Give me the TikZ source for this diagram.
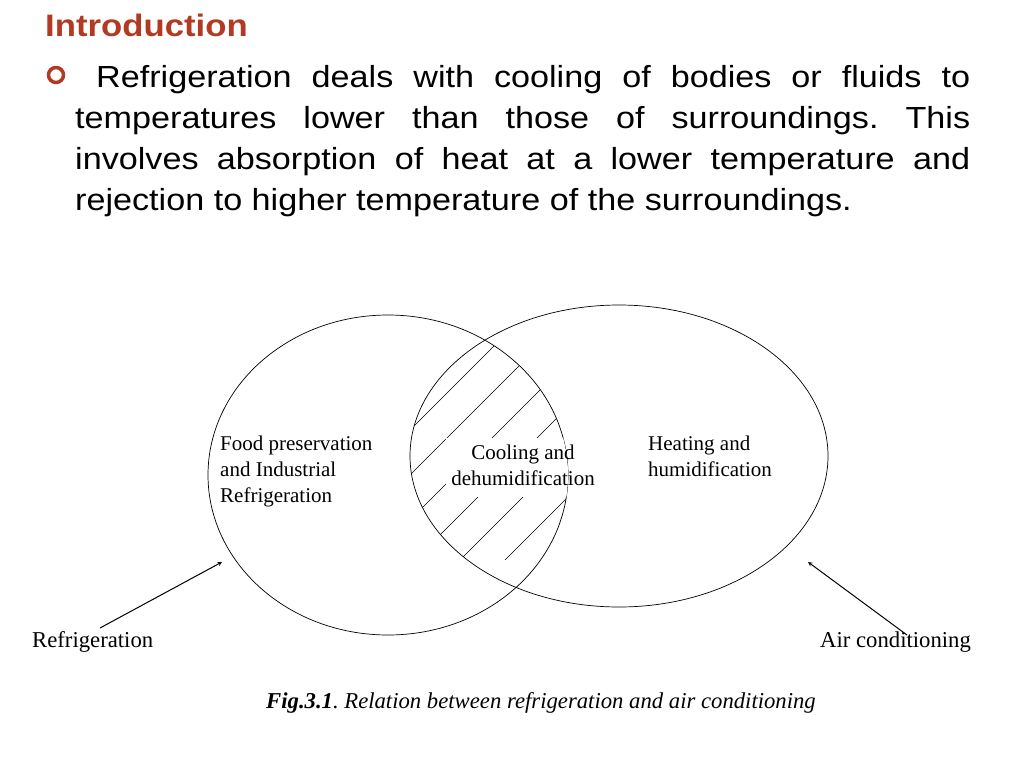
\documentclass[tikz,border=0pt]{standalone}
\usepackage{fontspec}
\setmainfont{Liberation Sans}
\newfontfamily\bodyfont[FakeStretch=1.12]{Liberation Sans}
\newfontfamily\tms{Liberation Serif}
\definecolor{introred}{HTML}{B23A22}
\frenchspacing
\begin{document}
\begin{tikzpicture}[x=1pt,y=-1pt,
  body/.style={anchor=base west,inner sep=0,font=\bodyfont\fontsize{30.5}{34}\selectfont},
  dtext/.style={font=\tms\fontsize{21}{26}\selectfont,align=left,inner sep=0},
  ltext/.style={font=\tms\fontsize{22.7}{26}\selectfont,inner sep=0},
  arr/.style={-stealth,line width=1pt}]
\useasboundingbox (0,0) rectangle (1024,768);
\node[anchor=base west,inner sep=0,text=introred,font=\bodyfont\bfseries\fontsize{31}{34}\selectfont] (intro) at (45,37) {Introduction};
\draw[introred,line width=3.5pt] (56,75) circle (7.5);
\node[body] (l1) at (96,87) {\makebox[874pt][s]{Refrigeration deals with cooling of bodies or fluids to}};
\node[body] (l2) at (75,128) {\makebox[895pt][s]{temperatures lower than those of surroundings. This}};
\node[body] (l3) at (75,169) {\makebox[895pt][s]{involves absorption of heat at a lower temperature and}};
\node[body] (l4) at (75,210) {rejection to higher temperature of the surroundings.};
% ellipses
\draw[line width=0.7pt] (388,475) ellipse (180 and 160);
\draw[line width=0.7pt] (619,456) ellipse (209 and 151);
\begin{scope}
\clip (388,475) ellipse (180 and 160);
\clip (619,456) ellipse (209 and 151);
\foreach \c in {840,885,930,975,1020,1065,1110,1155,1200}
  \draw[line width=0.6pt] (\c-560,560) -- (\c-300,300);
\fill[white] (446,438) rectangle (600,497);
\end{scope}
\node[dtext,anchor=north west] (food) at (220,436) {Food preservation\\and Industrial\\Refrigeration};
\node[dtext,align=center] (cool) at (523,465) {Cooling and\\dehumidification};
\node[dtext,anchor=north west] (heat) at (648,436) {Heating and\\humidification};
\node[ltext,anchor=west] (refr) at (32,642) {Refrigeration};
\node[ltext,anchor=west] (airc) at (820,642) {Air conditioning};
\coordinate (a1) at (222,562);
\coordinate (a2) at (808,562);
\draw[arr] (100,628) -- (a1);
\draw[arr] (907,635) -- (a2);
\node[ltext,anchor=base] (cap) at (541,708) {\textbf{\textit{Fig.3.1}}\textit{. Relation between refrigeration and air conditioning}};
\end{tikzpicture}
\end{document}
